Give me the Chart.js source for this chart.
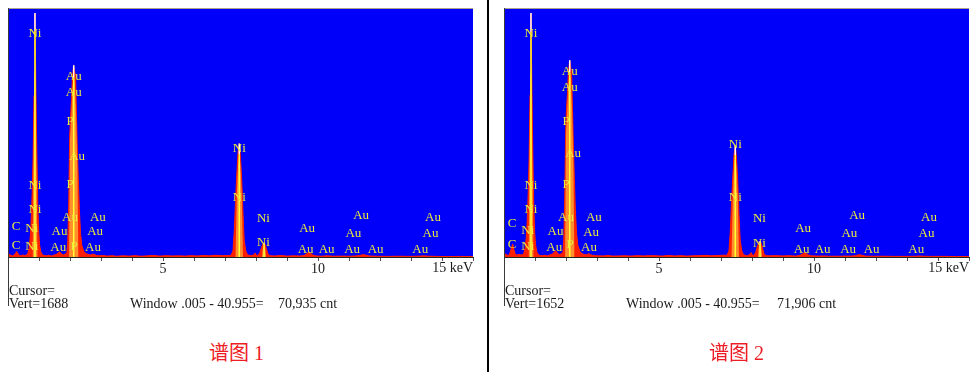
<!DOCTYPE html>
<html>
<head>
<meta charset="utf-8">
<script src="https://cdn.jsdelivr.net/npm/chart.js@4.4.1/dist/chart.umd.min.js"></script>
<style>
  html, body { margin:0; padding:0; background:#fff; width:978px; height:372px; overflow:hidden; }
  .panel { position:absolute; top:0; height:372px; }
  .panel canvas { position:absolute; left:0; top:0; }
  .txt { position:absolute; font-family:"Liberation Serif", serif; font-size:14px; line-height:14px; color:#1a1a1a; white-space:pre; }
  .topline { position:absolute; left:8px; top:8px; width:465px; height:1px; background:#a9a28f; }
  .leftline { position:absolute; left:8px; top:8px; width:1px; height:298px; background:#3a3a3a; }
  .cap { position:absolute; top:341px; font-family:"Liberation Serif", "Noto Sans CJK SC", serif; font-size:20px; line-height:24px; color:#ee1c25; white-space:pre; }
  #divider { position:absolute; left:487px; top:0; width:2px; height:372px; background:#000; }
</style>
</head>
<body>
<div class="panel" id="p1" style="left:0;width:488px;">
  <canvas id="c1" width="488" height="320"></canvas>
  <div class="topline"></div><div class="leftline"></div>
  <div class="txt" style="left:9px;top:284px;">Cursor=</div>
  <div class="txt" style="left:9px;top:297px;">Vert=1688</div>
  <div class="txt" style="left:130px;top:297px;">Window .005 - 40.955=</div>
  <div class="txt" style="left:278px;top:297px;">70,935 cnt</div>
</div>
<div id="divider"></div>
<div class="panel" id="p2" style="left:496px;width:482px;">
  <canvas id="c2" width="482" height="320"></canvas>
  <div class="topline"></div><div class="leftline"></div>
  <div class="txt" style="left:9px;top:284px;">Cursor=</div>
  <div class="txt" style="left:9px;top:297px;">Vert=1652</div>
  <div class="txt" style="left:130px;top:297px;">Window .005 - 40.955=</div>
  <div class="txt" style="left:281px;top:297px;">71,906 cnt</div>
</div>
<div class="cap" style="left:209px;">谱图 1</div>
<div class="cap" style="left:709px;">谱图 2</div>

<script>
// ---------- DATA ----------
const energyKeV = [
  0.00,0.05,0.10,0.15,0.20,0.24,0.28,0.32,0.36,0.42,0.48,0.54,0.60,
  0.64,0.68,0.72,0.75,0.78,0.81,0.84,0.87,0.90,0.93,0.96,0.99,1.02,1.06,1.10,1.16,
  1.24,1.32,1.40,1.48,1.56,1.62,1.67,1.72,1.78,1.84,
  1.90,1.93,1.96,1.99,2.02,2.05,2.08,2.12,2.15,2.18,2.21,2.24,2.27,2.30,2.34,2.38,2.44,2.50,
  2.58,2.66,2.74,2.80,2.86,2.94,3.05,3.2,3.35,3.5,3.7,3.9,4.1,4.3,4.5,4.7,4.9,5.1,5.3,5.5,5.7,5.9,6.1,6.3,6.5,6.7,6.9,7.1,
  7.20,7.26,7.30,7.34,7.38,7.42,7.46,7.50,7.54,7.58,7.62,7.67,7.73,
  7.85,7.93,7.97,8.01,8.06,8.12,8.18,8.22,8.26,8.30,8.34,8.39,8.45,
  8.6,8.8,9.0,9.2,9.4,9.55,9.62,9.67,9.71,9.76,9.82,9.9,
  10.1,10.3,10.5,10.8,11.0,11.2,11.35,11.42,11.47,11.55,11.65,11.9,12.2,12.6,13.0,13.3,13.4,13.5,13.8,14.2,14.6,15.0
];
const counts1 = [
  0,18,10,8,14,25,38,24,12,8,14,10,14,
  25,60,140,260,430,680,1100,1660,1150,700,360,170,80,35,18,10,
  8,12,7,12,18,28,35,22,14,18,
  30,110,380,820,960,1080,1230,1305,1260,1230,950,700,520,330,160,80,40,25,
  18,14,20,16,10,8,10,6,9,5,8,6,9,5,8,10,6,9,7,8,6,9,7,10,8,12,9,10,
  12,45,180,380,560,710,772,680,520,300,110,40,14,
  10,14,28,12,10,28,65,88,96,82,52,20,9,
  7,10,6,8,7,10,20,28,30,26,15,8,
  5,8,5,6,5,7,10,15,16,12,7,5,4,5,4,6,8,6,4,3,4,3
];
const counts2 = [
  0,20,12,10,30,60,87,50,20,12,18,14,16,
  25,60,130,250,420,660,1080,1625,1120,680,340,160,80,35,18,10,
  9,11,8,14,20,32,42,26,16,20,
  30,120,400,850,1000,1100,1240,1311,1270,1220,980,720,520,320,160,80,40,25,
  16,15,22,14,11,9,8,7,10,6,7,8,6,9,7,9,8,6,10,7,9,6,8,9,11,8,10,12,
  12,45,170,360,530,680,742,660,500,280,110,40,14,
  9,16,30,14,10,32,72,98,107,90,58,22,9,
  8,9,7,9,6,11,19,26,27,24,14,8,
  6,7,5,5,6,6,9,14,15,11,6,5,5,4,4,5,7,5,4,4,3,3
];
// inner (orange) core of the main peaks
const coreKeV = [0.79,0.82,0.85,0.87,0.89,0.92,0.95, 1.97,2.00,2.04,2.08,2.12,2.16,2.20,2.24,2.27, 7.34,7.38,7.42,7.46,7.50,7.54,7.58, 8.19,8.22,8.26,8.30,8.33];
const core1 = [0,700,1250,1560,1150,600,0, 0,800,950,1150,1230,1170,950,600,0, 0,420,620,720,620,420,0, 0,60,80,60,0];
const core2 = [0,680,1220,1530,1120,580,0, 0,820,970,1160,1240,1180,960,610,0, 0,400,600,690,600,400,0, 0,66,90,66,0];
// peak centre markers
const markKeV = [0.87, 2.12, 7.46, 8.26];
const yellowTop1 = [1540, 1220, 700, 80];
const peakTop1   = [1660, 1305, 772, 96];
const yellowTop2 = [1500, 1230, 680, 90];
const peakTop2   = [1625, 1311, 742, 107];
// element labels
const labelText = ['Ni','Au','Au','P','Au','Ni','P','Ni','Au','Au','C','Ni','Au','Au','C','Ni','Au','P','Au',
                   'Ni','Ni','Ni','Ni','Au','Au','Au','Au','Au','Au','Au','Au','Au','Au'];
const labelKeV  = [0.87,2.12,2.12,2.00,2.23,0.87,2.00,0.87,2.00,2.90,0.26,0.77,1.66,2.81,0.26,0.77,1.62,2.13,2.74,
                   7.46,7.46,8.24,8.24,9.65,9.60,10.28,11.39,11.14,11.10,11.86,13.71,13.63,13.30];
const labelCnt1 = [1524,1230,1121,923,683,485,492,321,267,267,205,191,171,171,75,68,62,68,62,
                   738,403,260,96,191,48,48,280,157,48,48,267,157,48];
const labelCnt2 = [1491,1237,1130,903,689,475,482,314,261,261,221,174,167,160,80,67,60,80,60,
                   749,395,254,87,187,47,47,274,154,47,47,261,154,47];
const tickLabels = {5:'5', 10:'10'};
const lastTickLabel = '15 keV';
const vertMax1 = 1688, vertMax2 = 1652;

// ---------- CHART ----------
Chart.defaults.font.family = '"Liberation Serif", serif';

function segs(xs, lo, hi) {
  const out = [];
  xs.forEach((e, i) => { out.push({x:e, y:lo[i]}, {x:e, y:hi[i]}, {x:e, y:null}); });
  return out;
}

function makeChart(id, counts, core, yTop, pTop, lblCnt, vmax, padRight) {
  const canvas = document.getElementById(id);
  const H = canvas.height;
  const bgPlugin = {
    id: 'bg' + id,
    beforeDraw(chart) {
      const a = chart.chartArea, c = chart.ctx;
      c.save(); c.fillStyle = '#0000fa';
      c.fillRect(a.left, a.top, a.right - a.left, a.bottom - a.top);
      c.restore();
    },
    afterDraw(chart) {
      const c = chart.ctx, xs = chart.scales.x, ys = chart.scales.y, a = chart.chartArea;
      c.save();
      c.font = '13px "Liberation Serif", serif';
      c.fillStyle = '#ebeb3a';
      c.textAlign = 'center';
      c.textBaseline = 'middle';
      labelText.forEach((t, i) => {
        c.fillText(t, xs.getPixelForValue(labelKeV[i]), ys.getPixelForValue(lblCnt[i]));
      });
      c.font = '14px "Liberation Serif", serif';
      c.fillStyle = '#1a1a1a';
      c.textAlign = 'right';
      c.textBaseline = 'top';
      c.fillText(lastTickLabel, Math.min(xs.getPixelForValue(15), a.right), a.bottom + 4);
      c.restore();
    }
  };
  return new Chart(canvas, {
    type: 'line',
    data: {
      datasets: [
        { order:3, data: energyKeV.map((e,i)=>({x:e, y:counts[i]})), fill:'origin',
          backgroundColor:'#ff1e00', borderColor:'#ff2400', borderWidth:1, pointRadius:0, tension:0 },
        { order:2, data: coreKeV.map((e,i)=>({x:e, y:core[i]})), fill:'origin',
          backgroundColor:'#ff8f2e', borderColor:'rgba(0,0,0,0)', borderWidth:0, pointRadius:0, tension:0 },
        { order:1, data: segs(markKeV, markKeV.map(()=>0), yTop), fill:false, spanGaps:false,
          borderColor:'#ffff30', borderWidth:1.5, pointRadius:0 },
        { order:0, data: segs(markKeV, yTop, pTop), fill:false, spanGaps:false,
          borderColor:'#ffffff', borderWidth:1.5, pointRadius:0 }
      ]
    },
    options: {
      responsive:false, animation:false, devicePixelRatio:1,
      layout: { padding: { left:8, right:padRight, top:9, bottom:0 } },
      plugins: { legend:{display:false}, tooltip:{enabled:false} },
      scales: {
        x: { type:'linear', min:0, max:15, offset:false,
             afterFit(s) { s.height = H - 257; },
             ticks: { stepSize:1, autoSkip:false, maxRotation:0, padding:0, color:'#1a1a1a',
                      font:{size:14, family:'"Liberation Serif", serif'},
                      callback:(v)=> tickLabels[v] || '' },
             grid: { drawOnChartArea:false, drawTicks:true, tickLength:4, color:'#555' },
             border: { display:true, color:'#222', width:1 } },
        y: { display:false, min:0, max:vmax }
      }
    },
    plugins: [bgPlugin]
  });
}

makeChart('c1', counts1, core1, yellowTop1, peakTop1, labelCnt1, vertMax1, 15);
makeChart('c2', counts2, core2, yellowTop2, peakTop2, labelCnt2, vertMax2, 9);
</script>
</body>
</html>
